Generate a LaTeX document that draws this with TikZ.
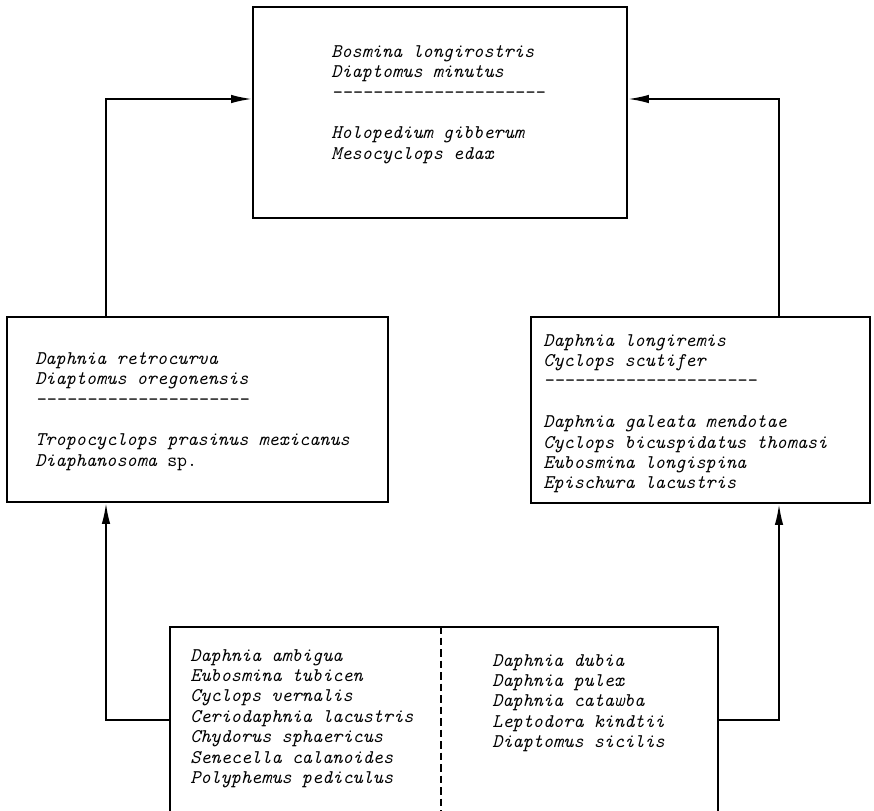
\documentclass[tikz,border=0pt]{standalone}
\usepackage{fontspec}
\usetikzlibrary{arrows.meta, positioning, calc}

\tikzset{
  box/.style={draw, line width=1.1pt, inner sep=0pt},
  names/.style={anchor=north west, inner sep=0pt, align=left,
    font=\fontsize{11}{11.6}\selectfont\ttfamily\itshape},
  flow/.style={line width=1.1pt, -{Latex[length=0.42cm, width=0.17cm]}},
}

\begin{document}
\begin{tikzpicture}[x=0.02cm, y=-0.02cm]
    \useasboundingbox (0,0) rectangle (874,810);
    % Boxes
    \node[box, minimum width=7.48cm, minimum height=4.22cm] (top) at (440,112.5) {};
    \node[box, minimum width=7.62cm, minimum height=3.7cm] (lft) at (197.5,409.5) {};
    \node[box, minimum width=6.78cm, minimum height=3.72cm] (rgt) at (700.5,410) {};
    \node[box, minimum width=10.96cm, minimum height=4.4cm] (bot) at (444,737) {};
    % Divider of the bottom box
    \coordinate (divx) at (441,0);
    \draw[line width=1.1pt, dash pattern=on 0.15cm off 0.08cm] (bot.north -| divx) -- (bot.south -| divx);
    % Species lists
    \node[names] (toptxt) at (331,45) {Bosmina longirostris\\Diaptomus minutus\\---------------------\\\mbox{}\\Holopedium gibberum\\Mesocyclops edax};
    \node[names] (lfttxt) at (35,352) {Daphnia retrocurva\\Diaptomus oregonensis\\---------------------\\\mbox{}\\Tropocyclops prasinus mexicanus\\Diaphanosoma {\upshape sp.}};
    \node[names] (rgttxt) at (543,334) {Daphnia longiremis\\Cyclops scutifer\\---------------------\\\mbox{}\\Daphnia galeata mendotae\\Cyclops bicuspidatus thomasi\\Eubosmina longispina\\Epischura lacustris};
    \node[names] (botl) at (190,649) {Daphnia ambigua\\Eubosmina tubicen\\Cyclops vernalis\\Ceriodaphnia lacustris\\Chydorus sphaericus\\Senecella calanoides\\Polyphemus pediculus};
    \node[names] (botr) at (492,654) {Daphnia dubia\\Daphnia pulex\\Daphnia catawba\\Leptodora kindtii\\Diaptomus sicilis};
    % Connectors
    \coordinate (lbend) at (106,99);
    \coordinate (rbend) at (779,99);
    \coordinate (lfoot) at (106,720);
    \coordinate (rfoot) at (779,720);
    \draw[flow] (lft.north -| lbend) |- (top.west |- lbend);
    \draw[flow] (rgt.north -| rbend) |- (top.east |- rbend);
    \draw[flow] (bot.west |- lfoot) -| (lft.south -| lfoot);
    \draw[flow] (bot.east |- rfoot) -| (rgt.south -| rfoot);
\end{tikzpicture}
\end{document}
